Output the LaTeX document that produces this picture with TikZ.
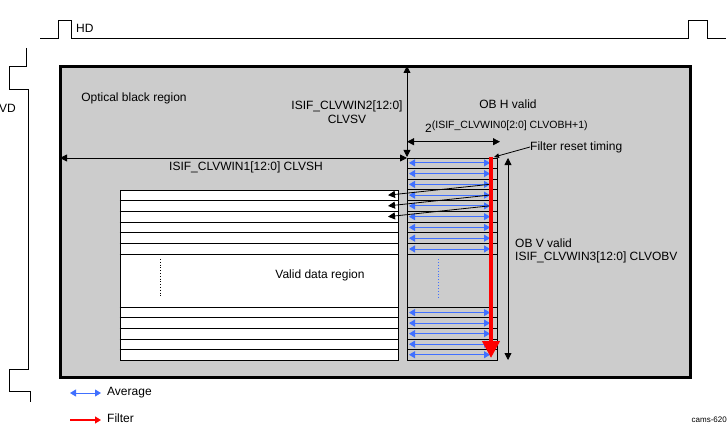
\documentclass[tikz,border=0pt]{standalone}
\usepackage{fontspec}
\setmainfont{Liberation Sans}
\usetikzlibrary{arrows.meta}
\definecolor{obgray}{RGB}{204,204,204}
\definecolor{avgblue}{RGB}{64,112,255}
\begin{document}
\begin{tikzpicture}[x=1pt,y=-1pt,
  lbl/.style={font=\fontsize{12}{14.5}\selectfont, inner sep=0pt},
  wave/.style={line width=0.8pt},
  dimarrow/.style={line width=0.8pt, {Triangle[length=7pt,width=7pt]}-{Triangle[length=7pt,width=7pt]}},
  avgarrow/.style={line width=0.9pt, avgblue, {Triangle[length=6pt,width=7pt]}-{Triangle[length=6pt,width=7pt]}},
  fltarrow/.style={line width=4pt, red, -{Triangle[length=17pt,width=17pt]}},
  maparrow/.style={line width=0.8pt, -{Triangle[length=7pt,width=7pt]}},
  rowline/.style={line width=0.8pt},
  boxnode/.style={draw, line width=0.8pt, inner sep=0pt, anchor=north west}]
\useasboundingbox (0,0) rectangle (728,425);

% HD waveform
\draw[wave] (40,38) -- (58,38) -- (58,20) -- (71,20) -- (71,38) -- (688,38) -- (688,20) -- (707,20) -- (707,38) -- (726,38);
\node[lbl, anchor=west] (hd) at (76,28) {HD};
% VD waveform
\draw[wave] (26,48) -- (26,66) -- (9,66) -- (9,89) -- (28.5,89) -- (28.5,369) -- (9,369) -- (9,391) -- (30,391) -- (30,402);
\node[lbl, anchor=west] (vd) at (-1,108) {VD};

% Optical black region
\node[boxnode, fill=obgray, line width=3pt, minimum width=630pt, minimum height=310pt] (ob) at (58.5,65.5) {};
\node[lbl] (obtext) at (134,98) {Optical black region};

% Valid data region
\node[boxnode, fill=white, minimum width=278.8pt, minimum height=170.22pt] (valid) at (119.5,189.78) {};
\foreach \y in {200.54,211.3,222.06,232.82,243.58,254.34,307.3,317.84,328.38,338.92,349.46}
  \draw[rowline] (119.5,\y) -- (398.3,\y);
\draw[line width=0.8pt, dotted] (160,259) -- (160,298);
\node[lbl] (validtext) at (320,275) {Valid data region};

% Average block
\node[boxnode, minimum width=90pt, minimum height=202.5pt] (avg) at (407,157.5) {};
\foreach \y in {168.26,179.02,189.78,200.54,211.3,222.06,232.82,243.58,254.34,307.3,317.84,328.38,338.92,349.46}
  \draw[rowline] (407,\y) -- (497,\y);
\foreach \y in {162.88,173.64,184.4,195.16,205.92,216.68,227.44,238.2,248.96,312.57,323.11,333.65,344.19,354.73}
  \draw[avgarrow] (409,\y) -- (490,\y);
\draw[line width=0.9pt, avgblue, dotted] (438.5,259) -- (438.5,299);

% mapping arrows
\coordinate (s1) at (489,184.4);  \coordinate (t1) at (388,195.16);
\coordinate (s2) at (489,195.16); \coordinate (t2) at (388,205.92);
\coordinate (s3) at (489,205.92); \coordinate (t3) at (388,216.68);
\draw[maparrow] (s1) -- (t1);
\draw[maparrow] (s2) -- (t2);
\draw[maparrow] (s3) -- (t3);

% filter arrow
\coordinate (ftop) at (491,156.7);
\coordinate (fbot) at (491,358);
\draw[fltarrow] (ftop) -- (fbot);

% dimension arrows
\coordinate (corner) at (407,157);
\coordinate (obtop) at (407,66);
\coordinate (obleft) at (60,158);
\coordinate (cornerh) at (407,158);
\draw[dimarrow] (obtop) -- (corner);
\draw[dimarrow] (obleft) -- (cornerh);
\node[lbl, align=center] (win2) at (347,112) {ISIF\_CLVWIN2[12:0]\\CLVSV};
\node[lbl] (win1) at (246,167) {ISIF\_CLVWIN1[12:0] CLVSH};

\coordinate (hl) at (407,141.7);
\coordinate (hr) at (500,141.7);
\draw[dimarrow] (hl) -- (hr);
\node[lbl] (obh) at (508,104) {OB H valid};
\node[lbl, anchor=west] (win0) at (425,127) {2{\fontsize{10.5}{12}\selectfont\raisebox{4pt}{(ISIF\_CLVWIN0[2:0] CLVOBH+1)}}};

\coordinate (vt) at (508,158);
\coordinate (vb) at (508,360);
\draw[dimarrow] (vt) -- (vb);
\node[lbl, anchor=west] (obv) at (515,243) {OB V valid};
\node[lbl, anchor=west] (win3) at (515,257) {ISIF\_CLVWIN3[12:0] CLVOBV};

% filter reset timing
\node[lbl, anchor=west] (frt) at (530,147) {Filter reset timing};
\draw[line width=0.8pt, -{Triangle[length=5pt,width=4.5pt]}] (frt.west) -- (494,157);

% legend
\coordinate (la1) at (70,393); \coordinate (la2) at (101,393);
\draw[avgarrow] (la1) -- (la2);
\node[lbl, anchor=west] (lavg) at (107,392.5) {Average};
\coordinate (lf1) at (70,420); \coordinate (lf2) at (101,420);
\draw[line width=1.2pt, red, -{Triangle[length=6pt,width=7pt]}] (lf1) -- (lf2);
\node[lbl, anchor=west] (lflt) at (107,418) {Filter};

\node[font=\fontsize{8}{9}\selectfont, inner sep=0pt, anchor=east] (cams) at (727,420) {cams-620};
\end{tikzpicture}
\end{document}
